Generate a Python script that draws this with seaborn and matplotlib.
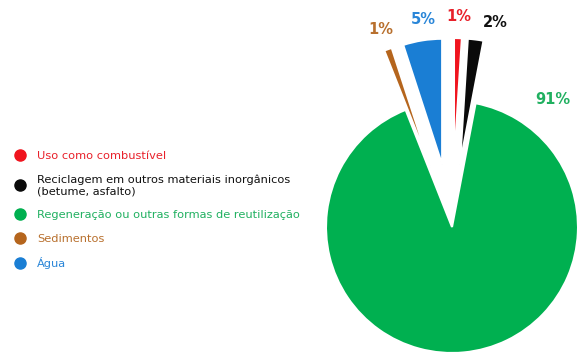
import matplotlib
matplotlib.use("Agg")
import matplotlib.pyplot as plt
from matplotlib.lines import Line2D
import numpy as np
import seaborn as sns

sns.set_theme(style="white")
plt.rcParams['font.family'] = ['DejaVu Sans']

categories = [
    "Uso como combustível",
    "Reciclagem em outros materiais inorgânicos\n(betume, asfalto)",
    "Regeneração ou outras formas de reutilização",
    "Sedimentos",
    "Água",
]
values = [1, 2, 91, 1, 5]
pct_labels = ["1%", "2%", "91%", "1%", "5%"]
colors = sns.color_palette(["#F0141E", "#0A0A0A", "#00B050", "#B5651D", "#1A7ED4"])
text_colors = ["#E8202A", "#111111", "#20B060", "#B8702E", "#2A86D8"]
explode = [0.5, 0.5, 0.0, 0.5, 0.5]

W, H = 580, 360
fig = plt.figure(figsize=(W / 100, H / 100), dpi=100)

R = 126.0
cx, cy = 452.0, 360 - 227.0
L = 1.7
size = 2 * L * R
ax = fig.add_axes([(cx - size / 2) / W, (cy - size / 2) / H, size / W, size / H])
ax.set_aspect("equal")
ax.axis("off")

wedges, texts, autotexts = ax.pie(
    values, colors=colors, startangle=90, counterclock=False,
    explode=explode, radius=1.0,
    autopct=lambda p: "", pctdistance=1.17,
    wedgeprops=dict(edgecolor="white", linewidth=1.5),
)
ax.set_xlim(-L, L)
ax.set_ylim(-L, L)

for i, (w, t) in enumerate(zip(wedges, autotexts)):
    t.set_text(pct_labels[i])
    t.set_color(text_colors[i])
    t.set_fontsize(10.5)
    t.set_fontweight("bold")

# label placement tweaks (as in the reference layout)
ang = np.deg2rad(90 - 38.5)
autotexts[2].set_position((1.29 * np.cos(ang), 1.29 * np.sin(ang)))
autotexts[1].set_position((0.34, 1.62))
autotexts[4].set_position((-0.23, 1.65))

handles = [Line2D([0], [0], marker="o", linestyle="", markersize=8,
                  markerfacecolor=c, markeredgecolor=c) for c in colors]
leg = fig.legend(handles, categories, loc="upper left",
                 bbox_to_anchor=(10 / W, 1 - 146 / H), frameon=False,
                 prop=dict(size=8.2), labelspacing=1.2, handletextpad=1.0,
                 handlelength=1.0, borderaxespad=0)
for txt, c in zip(leg.get_texts(), text_colors):
    txt.set_color(c)
    txt.set_linespacing(1.2)

fig.savefig("out.png", dpi=100)
